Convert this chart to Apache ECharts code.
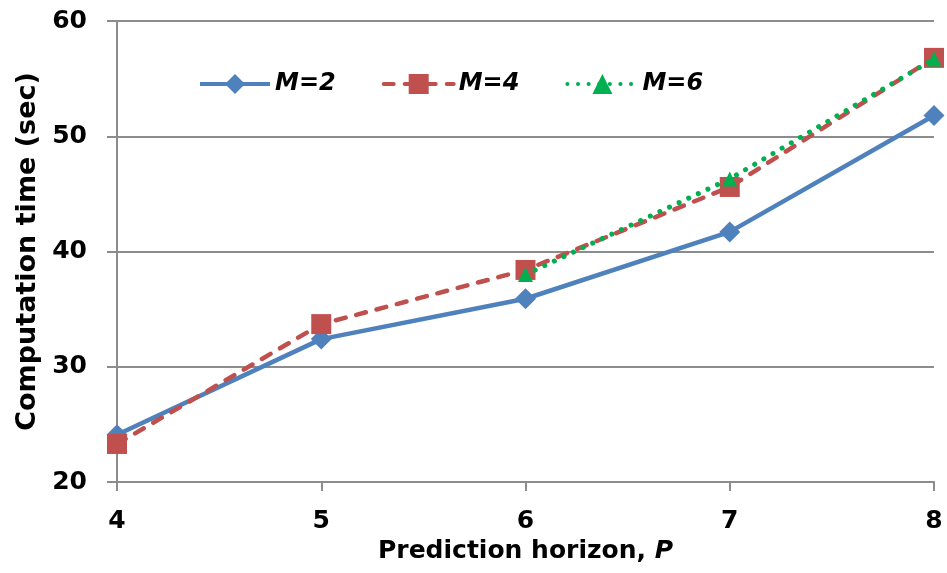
<!DOCTYPE html>
<html>
<head>
<meta charset="utf-8">
<script src="https://cdn.jsdelivr.net/npm/echarts@6/dist/echarts.min.js"></script>
<style>
  html, body { margin: 0; padding: 0; background: #ffffff; }
  #chart { width: 947px; height: 573px; }
</style>
</head>
<body>
<div id="chart"></div>
<script>
// Prediction horizon values (x categories)
const horizons = ['4', '5', '6', '7', '8'];

// Computation time (sec) for each control horizon M
const m2 = [24.1, 32.4, 35.9, 41.7, 51.8];
const m4 = [23.3, 33.7, 38.4, 45.6, 56.8];
const m6 = [null, null, 38.0, 46.3, 56.7];

const seriesNames = ['M=2', 'M=4', 'M=6'];

const FONT = '"DejaVu Sans", "Liberation Sans", sans-serif';
const AXIS_GREY = '#8c8c8c';

const chart = echarts.init(document.getElementById('chart'), null, { renderer: 'canvas' });

chart.setOption({
  animation: false,
  backgroundColor: '#ffffff',
  grid: {
    left: 117, right: 13, top: 21, bottom: 91,
    containLabel: false,
    outerBoundsMode: 'none'
  },
  legend: {
    top: 67,
    left: 193,
    itemWidth: 70,
    itemHeight: 25,
    itemGap: 46,
    data: seriesNames,
    lineStyle: { width: 4 },
    textStyle: {
      fontFamily: FONT,
      fontSize: 24,
      fontWeight: 'bold',
      fontStyle: 'italic',
      color: '#000000'
    }
  },
  xAxis: {
    type: 'category',
    data: horizons,
    boundaryGap: false,
    axisLine: { lineStyle: { color: AXIS_GREY, width: 2 } },
    axisTick: { show: true, length: 9, alignWithLabel: true, lineStyle: { color: AXIS_GREY, width: 2 } },
    axisLabel: {
      margin: 27,
      fontFamily: FONT,
      fontSize: 25,
      fontWeight: 'bold',
      color: '#000000'
    },
    splitLine: { show: false },
    name: 'Prediction horizon, {i|P}',
    nameLocation: 'middle',
    nameGap: 55,
    nameTextStyle: {
      fontFamily: FONT,
      fontSize: 25,
      fontWeight: 'bold',
      color: '#000000',
      rich: {
        i: {
          fontFamily: FONT,
          fontSize: 25,
          fontWeight: 'bold',
          fontStyle: 'italic',
          color: '#000000'
        }
      }
    }
  },
  yAxis: {
    type: 'value',
    min: 20,
    max: 60,
    interval: 10,
    axisLine: { show: true, lineStyle: { color: AXIS_GREY, width: 2 } },
    axisTick: { show: true, length: 10, lineStyle: { color: AXIS_GREY, width: 2 } },
    axisLabel: {
      margin: 30,
      fontFamily: FONT,
      fontSize: 25,
      fontWeight: 'bold',
      color: '#000000'
    },
    splitLine: { show: true, lineStyle: { color: AXIS_GREY, width: 2 } },
    name: 'Computation time (sec)',
    nameLocation: 'middle',
    nameGap: 76,
    nameRotate: 90,
    nameTextStyle: {
      fontFamily: FONT,
      fontSize: 27,
      fontWeight: 'bold',
      color: '#000000'
    }
  },
  series: [
    {
      name: 'M=2',
      type: 'line',
      data: m2,
      symbol: 'diamond',
      symbolSize: 21,
      lineStyle: { color: '#4F81BD', width: 4.5 },
      itemStyle: { color: '#4F81BD' },
      z: 3
    },
    {
      name: 'M=4',
      type: 'line',
      data: m4,
      symbol: 'rect',
      symbolSize: 20,
      lineStyle: { color: '#C0504D', width: 4.5, type: [10, 11], cap: 'round' },
      itemStyle: { color: '#C0504D' },
      z: 4
    },
    {
      name: 'M=6',
      type: 'line',
      data: m6,
      symbol: 'triangle',
      symbolSize: 15,
      connectNulls: false,
      lineStyle: { color: '#00B050', width: 5, type: [0.1, 10.5], cap: 'round' },
      itemStyle: { color: '#00B050' },
      z: 5
    }
  ]
});
</script>
</body>
</html>
